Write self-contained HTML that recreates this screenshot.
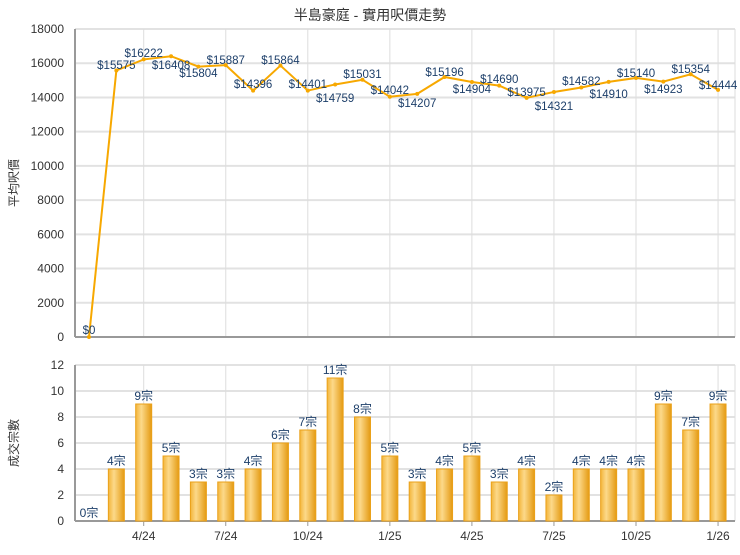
<!DOCTYPE html>
<html><head><meta charset="utf-8"><style>
body{margin:0;background:#fff}
svg text{font-family:"Liberation Sans","Noto Sans CJK TC",sans-serif}
</style></head><body>
<svg id="s" width="740" height="550" xmlns="http://www.w3.org/2000/svg">
<defs>
<linearGradient id="g" x1="0" x2="1" y1="0" y2="0">
<stop offset="0" stop-color="#f3b53a"/><stop offset="0.35" stop-color="#fcd98a"/><stop offset="1" stop-color="#e49a12"/>
</linearGradient>
</defs>
</svg>
<script>
var s=document.getElementById('s'),h='';
var P=[0,15575,16222,16408,15804,15887,14396,15864,14401,14759,15031,14042,14207,15196,14904,14690,13975,14321,14582,14910,15140,14923,15354,14444];
var LY=[330,65,53,65,73,60,84,60,84,98,74,90,103,72,89,79,92,106,81,94,73,89,69,85];
var C=[0,4,9,5,3,3,4,6,7,11,8,5,3,4,5,3,4,2,4,4,4,9,7,9];
var X=i=>89+i*27.35;
var L=75,R=735,T1=29,B1=337,T2=365,B2=521;
var y1=v=>B1-v/18000*(B1-T1), y2=v=>B2-v/12*(B2-T2);
h+='<text x="370" y="20" text-anchor="middle" font-size="14" fill="#333">半島豪庭 - 實用呎價走勢</text>';
for(var v=0;v<=18000;v+=2000){var y=y1(v);h+=`<line x1="${L}" x2="${R}" y1="${y}" y2="${y}" stroke="#e2e2e2" stroke-width="2"/><text x="64" y="${y+4}" text-anchor="end" font-size="12" fill="#333">${v}</text>`;}
for(var v=0;v<=12;v+=2){var y=y2(v);h+=`<line x1="${L}" x2="${R}" y1="${y}" y2="${y}" stroke="#e2e2e2" stroke-width="2"/><text x="64" y="${y+4}" text-anchor="end" font-size="12" fill="#333">${v}</text>`;}
var labs=['4/24','7/24','10/24','1/25','4/25','7/25','10/25','1/26'];
for(var k=0;k<8;k++){var x=X(2+3*k);h+=`<line x1="${x}" x2="${x}" y1="${T1}" y2="${B1}" stroke="#ddd"/><line x1="${x}" x2="${x}" y1="${T2}" y2="${B2}" stroke="#ddd"/><line x1="${x}" x2="${x}" y1="${B2}" y2="${B2+5}" stroke="#999"/><text x="${x}" y="${B2+19}" text-anchor="middle" font-size="12" fill="#333">${labs[k]}</text>`;}
h+=`<line x1="${R}" x2="${R}" y1="${T1}" y2="${B1}" stroke="#ddd"/><line x1="${R}" x2="${R}" y1="${T2}" y2="${B2}" stroke="#ddd"/>`;
h+=`<line x1="${L}" x2="${L}" y1="${T1}" y2="${B1}" stroke="#999" stroke-width="2"/><line x1="${L}" x2="${R}" y1="${B1}" y2="${B1}" stroke="#999" stroke-width="2"/>`;
h+=`<line x1="${L}" x2="${L}" y1="${T2}" y2="${B2}" stroke="#999" stroke-width="2"/><line x1="${L}" x2="${R}" y1="${B2}" y2="${B2}" stroke="#999" stroke-width="2"/>`;
h+=`<polyline fill="none" stroke="#f7a800" stroke-width="2" points="${P.map((v,i)=>X(i)+','+y1(v)).join(' ')}"/>`;
P.forEach((v,i)=>{h+=`<circle cx="${X(i)}" cy="${y1(v)}" r="2" fill="#f7a800"/><text x="${X(i)}" y="${LY[i]+4}" text-anchor="middle" font-size="11.5" fill="#1d3f6a">$${v}</text>`;});
C.forEach((v,i)=>{var x=X(i),y=y2(v);if(v>0)h+=`<rect x="${x-8}" y="${y}" width="16" height="${B2-y}" fill="url(#g)" stroke="#eaa11a" stroke-width="1"/>`;h+=`<text x="${x}" y="${y-4}" text-anchor="middle" font-size="12" fill="#1d3f6a">${v}宗</text>`;});
h+='<text transform="translate(18,183) rotate(-90)" text-anchor="middle" font-size="12" fill="#333">平均呎價</text>';
h+='<text transform="translate(18,443) rotate(-90)" text-anchor="middle" font-size="12" fill="#333">成交宗數</text>';
s.insertAdjacentHTML('beforeend',h);
</script>
</body></html>
